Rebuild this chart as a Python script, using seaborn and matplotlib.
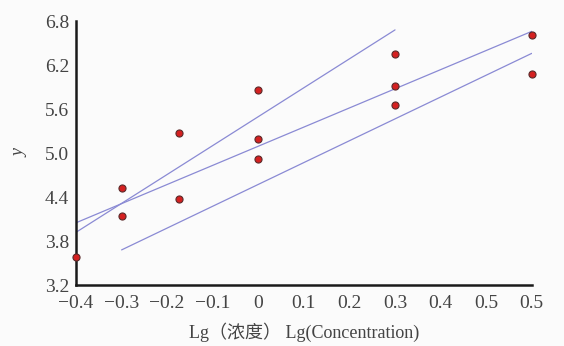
import matplotlib
matplotlib.use("Agg")
import matplotlib.pyplot as plt
import seaborn as sns
import pandas as pd

# Data points (x = Lg concentration, y)
pt_x = [-0.4, -0.3, -0.3, -0.175, -0.175, 0.0, 0.0, 0.0, 0.3, 0.3, 0.3, 0.6, 0.6]
pt_y = [3.58, 4.52, 4.14, 5.27, 4.37, 5.86, 5.19, 4.92, 6.35, 5.91, 5.66, 6.61, 6.08]

# Fitted lines (endpoints)
steep_x = [-0.4, 0.3]
steep_y = [3.92, 6.68]
mid_x = [-0.4, 0.6]
mid_y = [4.05, 6.66]
low_x = [-0.3, 0.6]
low_y = [3.68, 6.36]

x_ticks = [-0.4, -0.3, -0.2, -0.1, 0.0, 0.1, 0.2, 0.3, 0.4, 0.5, 0.6]
x_tick_labels = ["−0.4", "−0.3", "−0.2", "−0.1", "0", "0.1", "0.2", "0.3", "0.4", "0.5", "0.5"]
y_ticks = [3.2, 3.8, 4.4, 5.0, 5.6, 6.2, 6.8]
y_tick_labels = ["3.2", "3.8", "4.4", "5.0", "5.6", "6.2", "6.8"]

sns.set_style("white")
plt.rcParams['font.family'] = ['Liberation Serif', 'Noto Sans CJK SC', 'DejaVu Sans']

fig = plt.figure(figsize=(5.64, 3.46), dpi=100)
fig.patch.set_facecolor("#fbfbfb")
ax = fig.add_axes([0.1348, 0.176, 0.808, 0.763])
ax.set_facecolor("#fbfbfb")

line_color = "#8a8ad4"
for lx, ly in [(steep_x, steep_y), (mid_x, mid_y), (low_x, low_y)]:
    sns.lineplot(x=lx, y=ly, ax=ax, color=line_color, linewidth=0.9, zorder=2)

df = pd.DataFrame({"x": pt_x, "y": pt_y})
sns.scatterplot(data=df, x="x", y="y", ax=ax, color="#d42020", edgecolor="#5a2a2a",
                linewidth=0.8, s=26, zorder=3, clip_on=False)

ax.set_xlim(-0.4, 0.6)
ax.set_ylim(3.2, 6.8)
ax.set_xticks(x_ticks)
ax.set_xticklabels(x_tick_labels)
ax.set_yticks(y_ticks)
ax.set_yticklabels(y_tick_labels)

for s in ["top", "right"]:
    ax.spines[s].set_visible(False)
for s in ["left", "bottom"]:
    ax.spines[s].set_color("#1a1a1a")
    ax.spines[s].set_linewidth(1.8)

ax.tick_params(axis="both", direction="in", length=4, width=1.5, color="#1a1a1a",
               labelsize=14, labelcolor="#444444", pad=5)
ax.tick_params(axis="x", pad=7)

ax.set_xlabel("Lg（浓度） Lg(Concentration)", fontsize=13, color="#444444", labelpad=8)
ax.set_ylabel("y", fontsize=13, color="#444444", style="italic", labelpad=12)

fig.savefig("out.png", dpi=100, facecolor=fig.get_facecolor())
